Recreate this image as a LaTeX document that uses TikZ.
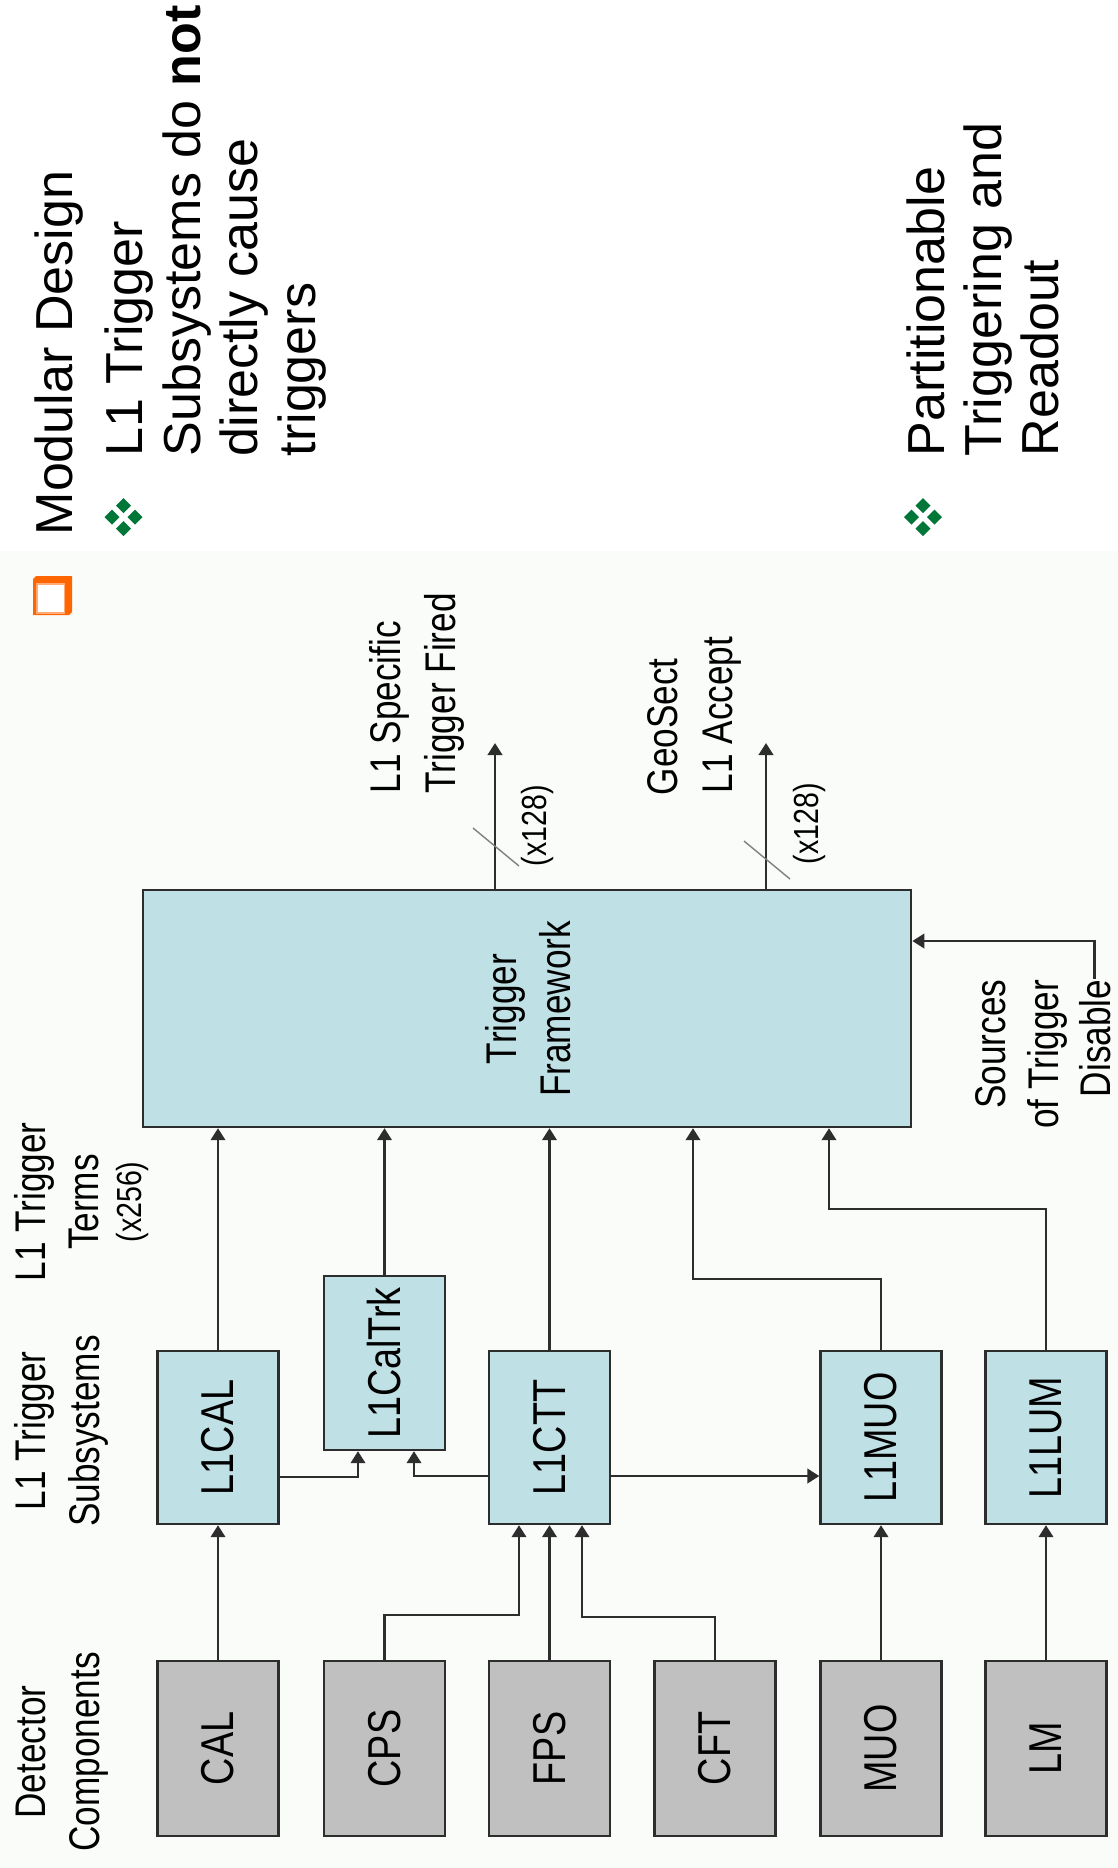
\documentclass[tikz,border=0pt]{standalone}
\usepackage{graphicx}
\usepackage{fontspec}
\setmainfont{Liberation Sans}
\newfontfamily\narrowsf[FakeStretch=0.82]{Liberation Sans}
\usetikzlibrary{arrows.meta,calc}

\definecolor{boxblue}{RGB}{191,224,228}
\definecolor{boxgrey}{RGB}{192,192,192}
\definecolor{edge}{RGB}{45,45,45}
\definecolor{bullgreen}{RGB}{0,118,56}
\definecolor{bullorange}{RGB}{255,102,0}
\definecolor{panel}{RGB}{250,252,250}

\tikzset{
  gem/.pic={\fill[bullgreen] (0,-7.5) -- (7.5,0) -- (0,7.5) -- (-7.5,0) -- cycle;},
  greenbullet/.pic={
    \pic at (0,-11.5) {gem}; \pic at (-11.5,0) {gem};
    \pic at (11.5,0) {gem};  \pic at (0,11.5) {gem};
  }
}

\begin{document}
\begin{tikzpicture}[x=0.01cm,y=-0.01cm,
  slidetext/.style={font=\fontsize{14.8}{17}\selectfont, rotate=90, inner sep=0pt, anchor=base west},
  lbl/.style={font=\narrowsf\fontsize{12.2}{15}\selectfont, rotate=90, inner sep=0pt},
  lblsmall/.style={font=\narrowsf\fontsize{9.9}{12}\selectfont, rotate=90, inner sep=0pt},
  subsys/.style={draw=edge, line width=0.65pt, fill=boxblue, minimum width=1.21cm,
    minimum height=1.73cm, inner sep=0pt, font=\narrowsf\fontsize{13.1}{15}\selectfont},
  detector/.style={subsys, fill=boxgrey, minimum height=1.75cm},
  wire/.style={draw=edge, line width=0.7pt},
  arr/.style={wire, -{Triangle[length=1.2mm,width=1.45mm]}},
  bus/.style={draw=gray, line width=0.4pt}
]
\useasboundingbox (0,0) rectangle (1118,1868);
\fill[white] (0,0) rectangle (1118,1868);
\fill[panel] (0,551) rectangle (1118,1868);

% ---------------- bullet text ----------------
\pic at (123.5,517) {greenbullet};
\pic at (923,517) {greenbullet};

\node[slidetext] (t1) at (73,536) {Modular Design};
\node[slidetext] (t2) at (143,457) {L1 Trigger};
\node[slidetext] (t3) at (200,457) {Subsystems do \textbf{not}};
\node[slidetext] (t4) at (258,457) {directly cause};
\node[slidetext] (t5) at (315,457) {triggers};
\node[slidetext] (t6) at (944,457) {Partitionable};
\node[slidetext] (t7) at (1001,457) {Triggering and};
\node[slidetext] (t8) at (1058,457) {Readout};

% orange square bullet
\fill[bullorange] (33,579) -- (36,576) -- (72,576) -- (72,612) -- (69,615) -- (33,615) -- cycle;
\fill[white] (37,584) rectangle (64.5,613);
\draw[bullorange!55, line width=0.3pt] (37,584) rectangle (64.5,613);

% ---------------- column headings ----------------
\node[lbl, anchor=base] (hd1) at (45,1752) {Detector};
\node[lbl, anchor=base] (hd2) at (99,1752) {Components};
\node[lbl, anchor=base] (hs1) at (45,1431) {L1 Trigger};
\node[lbl, anchor=base] (hs2) at (99,1431) {Subsystems};
\node[lbl, anchor=base] (ht1) at (45,1202) {L1 Trigger};
\node[lbl, anchor=base] (ht2) at (98,1202) {Terms};
\node[lblsmall, anchor=base] (ht3) at (142,1202) {(x256)};

% ---------------- boxes ----------------
\node[detector] (cal) at (218,1748.5) {\rotatebox{90}{CAL}};
\node[detector] (cps) at (384.5,1748.5) {\rotatebox{90}{CPS}};
\node[detector] (fps) at (549.5,1748.5) {\rotatebox{90}{FPS}};
\node[detector] (cft) at (715,1748.5) {\rotatebox{90}{CFT}};
\node[detector] (muo) at (881,1748.5) {\rotatebox{90}{MUO}};
\node[detector] (lm)  at (1046,1748.5) {\rotatebox{90}{LM}};

\node[subsys] (l1cal)    at (218,1437.5) {\rotatebox{90}{L1CAL}};
\node[subsys, minimum height=1.74cm] (l1caltrk) at (384.5,1363) {\rotatebox{90}{L1CalTrk}};
\node[subsys] (l1ctt)    at (549.5,1437.5) {\rotatebox{90}{L1CTT}};
\node[subsys] (l1muo)    at (881,1437.5) {\rotatebox{90}{L1MUO}};
\node[subsys] (l1lum)    at (1046,1437.5) {\rotatebox{90}{L1LUM}};

\node[subsys, minimum width=7.68cm, minimum height=2.37cm] (tf) at (527,1008.5) {};
\node[lbl, anchor=base] (tft1) at (516,1009) {Trigger};
\node[lbl, anchor=base] (tft2) at (570,1009) {Framework};

% ---------------- detector to subsystem ----------------
\draw[arr] (cal.north) -- (l1cal.south);
\draw[arr] (fps.north) -- (l1ctt.south);
\draw[arr] (muo.north) -- (l1muo.south);
\draw[arr] (lm.north) -- (l1lum.south);

\coordinate (cpsTurn) at (519,1615);
\draw[arr] (cps.north) |- (cpsTurn) -- (cpsTurn |- l1ctt.south);
\coordinate (cftTurn) at (582,1617);
\draw[arr] (cft.north) |- (cftTurn) -- (cftTurn |- l1ctt.south);

% ---------------- between subsystems ----------------
\coordinate (calTrkIn) at (358,1477);
\draw[arr] (l1cal.east |- calTrkIn) -- (calTrkIn) -- (calTrkIn |- l1caltrk.south);
\coordinate (cttTrkIn) at (414,1476);
\draw[arr] (l1ctt.west |- cttTrkIn) -- (cttTrkIn) -- (cttTrkIn |- l1caltrk.south);
\draw[arr] (l1ctt.east |- cttTrkIn) -- (l1muo.west |- cttTrkIn);

% ---------------- trigger terms into the framework ----------------
\draw[arr] (l1cal.north) -- (l1cal.north |- tf.south);
\draw[arr] (l1caltrk.north) -- (l1caltrk.north |- tf.south);
\draw[arr] (l1ctt.north) -- (l1ctt.north |- tf.south);
\coordinate (muoTurn) at (693,1279);
\draw[arr] (l1muo.north) |- (muoTurn) -- (muoTurn |- tf.south);
\coordinate (lumTurn) at (829,1209);
\draw[arr] (l1lum.north) |- (lumTurn) -- (lumTurn |- tf.south);

% ---------------- framework outputs ----------------
\coordinate (outA) at (495,743);
\draw[arr] (outA |- tf.north) -- (outA);
\coordinate (busA) at (496,847);
\draw[bus] ([shift={(-23,-19)}]busA) -- ([shift={(23,19)}]busA);
\node[lblsmall, anchor=base west] (busAtxt) at (546,867) {(x128)};
\node[lbl, anchor=base west] (outA1) at (400,794) {L1 Specific};
\node[lbl, anchor=base west] (outA2) at (455,794) {Trigger Fired};

\coordinate (outB) at (766,743);
\draw[arr] (outB |- tf.north) -- (outB);
\coordinate (busB) at (767,860);
\draw[bus] ([shift={(-23,-19)}]busB) -- ([shift={(23,19)}]busB);
\node[lblsmall, anchor=base west] (busBtxt) at (818,865) {(x128)};
\node[lbl, anchor=base west] (outB1) at (677,796) {GeoSect};
\node[lbl, anchor=base west] (outB2) at (732,794) {L1 Accept};

% ---------------- trigger disable input ----------------
\node[lbl, anchor=base east] (srcA) at (1005,979) {Sources};
\node[lbl, anchor=base east] (srcB) at (1058,979) {of Trigger};
\node[lbl, anchor=base east] (srcC) at (1110,979) {Disable};
\coordinate (disLevel) at (1000,941);
\draw[arr] (srcC.east) |- (disLevel -| tf.east);
\end{tikzpicture}
\end{document}
